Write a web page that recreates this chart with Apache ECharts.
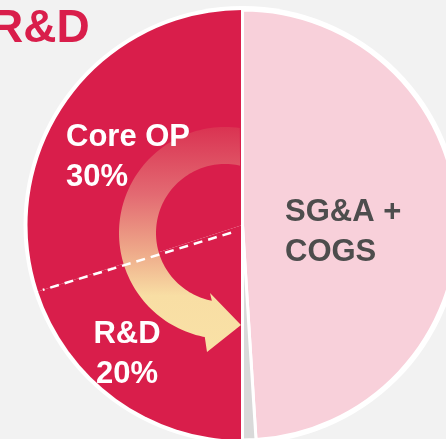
<!DOCTYPE html>
<html>
<head>
<meta charset="UTF-8">
<title>R&amp;D</title>
<script src="https://cdn.jsdelivr.net/npm/echarts@6/dist/echarts.min.js"></script>
<style>
  html, body { margin: 0; padding: 0; background: #f2f2f2; }
  #main { width: 446px; height: 439px; }
</style>
</head>
<body>
<div id="main"></div>
<script>
// slices, clockwise starting at 6 o'clock
var names = ['R&D', 'Core OP', 'SG&A + COGS', 'Other'];
var values = [20, 30, 49, 1];
var labels = ['R&D\n20%', 'Core OP\n30%', 'SG&A +\nCOGS', ''];

var RED = '#d91e4b';
var colors = [RED, RED, '#f8d0da', '#d9d9d9'];
var labelColors = ['#ffffff', '#ffffff', '#4d4d4d', '#4d4d4d'];
// where each label sits: [x, y, align]
var labelPos = [[127, 354, 'center'], [66, 157, 'left'], [285, 232, 'left'], [0, 0, 'left']];

var cx = 242.5, cy = 225, R = 215;
var font = 'Liberation Sans, Arial, sans-serif';

var chart = echarts.init(document.getElementById('main'));

var total = values.reduce(function (a, b) { return a + b; }, 0);

// dashed split between R&D and Core OP, on the slice boundary
var th = values[0] / total * 2 * Math.PI;
var dx = -Math.sin(th), dy = Math.cos(th);
var dash = [cx + 12 * dx, cy + 12 * dy + 4, cx + 210 * dx, cy + 210 * dy];

// curved arrow (decoration)
var acx = 225, acy = 233, ro = 106, ri = 69;
var pts = [], a, rad = Math.PI / 180;
for (a = 82; a < 259; a += 2) pts.push([acx + ro * Math.cos(a * rad), acy - ro * Math.sin(a * rad)]);
pts.push([acx + ro * Math.cos(259 * rad), acy - ro * Math.sin(259 * rad)]);
pts.push([207, 352], [241, 325], [210, 293]);
for (a = 259; a > 77.4; a -= 2) pts.push([acx + ri * Math.cos(a * rad), acy - ri * Math.sin(a * rad)]);
pts.push([acx + ri * Math.cos(77.4 * rad), acy - ri * Math.sin(77.4 * rad)]);

var sliceData = names.map(function (n, i) {
    return {
        name: n,
        value: values[i],
        itemStyle: {
            color: colors[i],
            borderColor: '#ffffff',
            borderWidth: i < 2 ? 0 : 3
        }
    };
});

// same slices again, invisible, only to carry the labels above the arrow
var labelData = names.map(function (n, i) {
    return { name: n, value: values[i], label: { color: labelColors[i] } };
});

var option = {
    animation: false,
    backgroundColor: '#f2f2f2',
    title: {
        text: 'R&D',
        left: -10,
        top: 6,
        padding: 0,
        textStyle: { color: RED, fontSize: 46, fontWeight: 'bold', fontFamily: font }
    },
    graphic: [
        { type: 'circle', z: 0, silent: true, shape: { cx: cx, cy: cy, r: 219 }, style: { fill: '#ffffff' } },
        {
            type: 'polygon', z: 10, silent: true,
            shape: { points: pts },
            style: {
                fill: new echarts.graphic.LinearGradient(0, 0, 0, 1, [
                    { offset: 0, color: '#da3352' },
                    { offset: 0.3, color: '#e36a72' },
                    { offset: 0.55, color: '#eea889' },
                    { offset: 0.75, color: '#f8dea4' },
                    { offset: 1, color: '#f9e1a6' }
                ])
            }
        },
        {
            type: 'line', z: 11, silent: true,
            shape: { x1: dash[0], y1: dash[1], x2: dash[2], y2: dash[3] },
            style: { stroke: '#ffffff', lineWidth: 2.5, lineDash: [9, 6] }
        }
    ],
    series: [{
        type: 'pie',
        silent: true,
        center: [cx, cy],
        radius: R,
        startAngle: -90,
        clockwise: true,
        data: sliceData,
        label: { show: false },
        labelLine: { show: false }
    }, {
        type: 'pie',
        silent: true,
        z: 20,
        center: [cx, cy],
        radius: R,
        startAngle: -90,
        clockwise: true,
        avoidLabelOverlap: false,
        itemStyle: { color: 'rgba(0,0,0,0)', borderWidth: 0 },
        data: labelData,
        label: {
            show: true,
            position: 'inside',
            formatter: function (p) { return labels[p.dataIndex]; },
            fontSize: 31,
            fontWeight: 'bold',
            fontFamily: font,
            lineHeight: 40
        },
        labelLine: { show: false },
        labelLayout: function (p) {
            var q = labelPos[p.dataIndex];
            return { x: q[0], y: q[1], align: q[2], verticalAlign: 'middle' };
        }
    }]
};

chart.setOption(option);
</script>
</body>
</html>
